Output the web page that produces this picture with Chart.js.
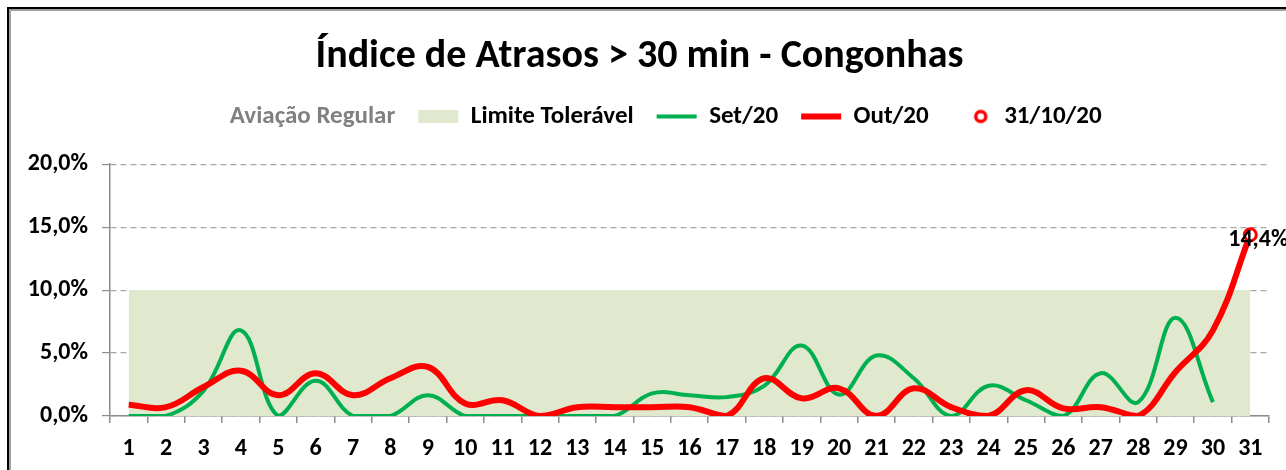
<!DOCTYPE html>
<html>
<head>
<meta charset="utf-8">
<script src="https://cdn.jsdelivr.net/npm/chart.js@4/dist/chart.umd.min.js"></script>
<style>
  html, body { margin: 0; padding: 0; background: #fff; overflow: hidden; }
  ::-webkit-scrollbar { display: none; }
  #wrap { position: relative; width: 1286px; height: 470px; overflow: hidden; }
  #myChart { display: block; }
  #frame {
    position: absolute; left: 7px; top: 7px; width: 1400px; height: 600px;
    border-top: 2px solid #000; border-left: 2px solid #000; border-right: none; border-bottom: none;
    box-shadow: inset 2px 2px 0 #a0a0a0; pointer-events: none;
  }
</style>
</head>
<body>
<div id="wrap">
  <canvas id="myChart" width="1286" height="470"></canvas>
  <div id="frame"></div>
</div>
<script>
// dados (% de voos com atraso > 30 min)
const dias = ['1','2','3','4','5','6','7','8','9','10','11','12','13','14','15','16','17','18','19','20','21','22','23','24','25','26','27','28','29','30','31'];
const limite = [10,10,10,10,10,10,10,10,10,10,10,10,10,10,10,10,10,10,10,10,10,10,10,10,10,10,10,10,10,10,10];
const set20 = [0.0,0.0,2.0,6.8,0.0,2.8,0.0,0.0,1.65,0.0,0.0,0.0,0.0,0.0,1.8,1.65,1.5,2.4,5.6,1.7,4.8,3.0,0.0,2.4,1.25,0.0,3.4,1.1,7.8,1.1,null];
const out20 = [0.9,0.7,2.3,3.6,1.65,3.4,1.65,3.0,3.9,1.0,1.25,0.0,0.7,0.7,0.7,0.7,0.0,3.0,1.4,2.2,0.0,2.2,0.7,0.0,2.05,0.6,0.7,0.0,3.5,6.8,14.4];
const ultimoDia = [null,null,null,null,null,null,null,null,null,null,null,null,null,null,null,null,null,null,null,null,null,null,null,null,null,null,null,null,null,null,14.4];
const yTicks = [0, 5, 10, 15, 20];

const FONT = "Carlito, Calibri, Lato, 'Open Sans', sans-serif";
const VERDE = '#00b050';
const VERMELHO = '#ff0000';
const AREA = '#e0e9cd';

const pct = (v) => v.toFixed(1).replace('.', ',') + '%';

// ícone do marcador para a legenda (círculo vazado)
const iconeCirculo = document.createElement('canvas');
iconeCirculo.width = 40;
iconeCirculo.height = 18;
{
    const c = iconeCirculo.getContext('2d');
    c.strokeStyle = VERMELHO;
    c.lineWidth = 3.5;
    c.beginPath();
    c.arc(29, 9, 5, 0, Math.PI * 2);
    c.stroke();
}

// rótulo do último ponto
const rotuloFinal = {
    id: 'rotuloFinal',
    afterDatasetsDraw(chart) {
        const meta = chart.getDatasetMeta(3);
        const idx = ultimoDia.length - 1;
        const pt = meta.data[idx];
        if (!pt) return;
        const ctx = chart.ctx;
        ctx.save();
        ctx.font = 'bold 24px ' + FONT;
        ctx.fillStyle = '#000';
        ctx.textAlign = 'center';
        ctx.textBaseline = 'middle';
        ctx.fillText(pct(ultimoDia[idx]), pt.x + 8, pt.y + 5);
        ctx.restore();
    }
};

const ctx = document.getElementById('myChart').getContext('2d');
const chart = new Chart(ctx, {
    type: 'line',
    data: {
        labels: dias,
        datasets: [
            {
                label: 'Limite Tolerável',
                data: limite,
                borderWidth: 0,
                borderColor: 'rgba(0,0,0,0)',
                backgroundColor: AREA,
                fill: 'origin',
                pointRadius: 0,
                tension: 0,
                order: 4
            },
            {
                label: 'Set/20',
                data: set20,
                borderColor: VERDE,
                backgroundColor: VERDE,
                borderWidth: 4,
                pointRadius: 0,
                tension: 0.4,
                fill: false,
                order: 3
            },
            {
                label: 'Out/20',
                data: out20,
                borderColor: VERMELHO,
                backgroundColor: VERMELHO,
                borderWidth: 6,
                pointRadius: 0,
                tension: 0.4,
                fill: false,
                order: 2
            },
            {
                label: '31/10/20',
                data: ultimoDia,
                showLine: false,
                borderColor: VERMELHO,
                backgroundColor: '#fff',
                pointRadius: 6,
                pointBorderWidth: 3,
                order: 1
            }
        ]
    },
    options: {
        responsive: false,
        animation: false,
        layout: { padding: { left: 10, right: 17, top: 0, bottom: 0 } },
        plugins: {
            title: {
                display: true,
                text: 'Índice de Atrasos > 30 min - Congonhas',
                color: '#000',
                font: { family: FONT, size: 40, weight: 'bold' },
                padding: { top: 33, bottom: 0 }
            },
            // espaço entre a legenda e a área do gráfico
            subtitle: {
                display: true,
                text: ' ',
                weight: 500,
                font: { size: 1 },
                padding: { top: 24, bottom: 0 }
            },
            legend: {
                display: true,
                labels: {
                    usePointStyle: true,
                    pointStyleWidth: 40,
                    boxHeight: 13,
                    padding: 23,
                    color: '#000',
                    font: { family: FONT, size: 25, weight: 'bold' },
                    generateLabels: (ch) => {
                        const ds = ch.data.datasets;
                        return [
                            { text: 'Aviação Regular', fontColor: '#808080', fillStyle: 'rgba(0,0,0,0)', strokeStyle: 'rgba(0,0,0,0)', lineWidth: 0, pointStyle: 'rect', datasetIndex: -1 },
                            { text: ds[0].label, fontColor: '#000', fillStyle: AREA, strokeStyle: AREA, lineWidth: 0, pointStyle: 'rect', datasetIndex: 0 },
                            { text: ds[1].label, fontColor: '#000', fillStyle: VERDE, strokeStyle: VERDE, lineWidth: 4, pointStyle: 'line', datasetIndex: 1 },
                            { text: ds[2].label, fontColor: '#000', fillStyle: VERMELHO, strokeStyle: VERMELHO, lineWidth: 6, pointStyle: 'line', datasetIndex: 2 },
                            { text: ds[3].label, fontColor: '#000', fillStyle: '#fff', strokeStyle: VERMELHO, lineWidth: 3, pointStyle: iconeCirculo, datasetIndex: 3 }
                        ];
                    }
                }
            },
            tooltip: { enabled: false }
        },
        scales: {
            x: {
                offset: true,
                grid: {
                    offset: true,
                    drawOnChartArea: false,
                    drawTicks: true,
                    tickLength: 7,
                    color: '#8c8c8c',
                    lineWidth: 1.5
                },
                border: { display: true, color: '#8c8c8c', width: 1.5 },
                ticks: {
                    color: '#000',
                    font: { family: FONT, size: 24, weight: 'bold' },
                    padding: 12,
                    maxRotation: 0,
                    autoSkip: false
                },
                afterFit: (scale) => { scale.height = 54; }
            },
            y: {
                min: yTicks[0],
                max: yTicks[yTicks.length - 1],
                afterBuildTicks: (scale) => { scale.ticks = yTicks.map(v => ({ value: v })); },
                grid: {
                    color: '#a6a6a6',
                    lineWidth: 1.2,
                    tickLength: 8,
                    tickColor: '#8c8c8c'
                },
                border: { display: true, color: '#8c8c8c', width: 1.5, dash: [6, 4] },
                ticks: {
                    color: '#000',
                    font: { family: FONT, size: 24, weight: 'bold' },
                    padding: 14,
                    callback: (v) => pct(v)
                },
                afterFit: (scale) => { scale.width = 100; }
            }
        }
    },
    plugins: [rotuloFinal]
});
</script>
</body>
</html>
